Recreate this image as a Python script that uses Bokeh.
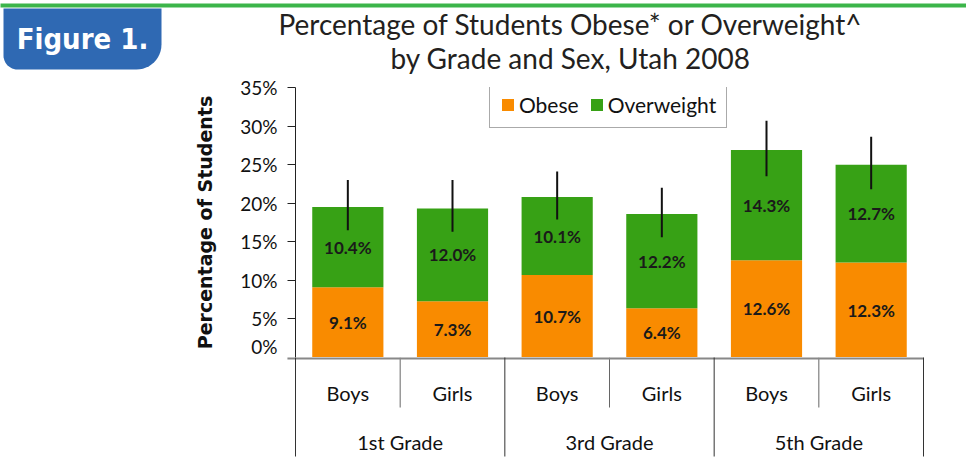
import math
from bokeh.plotting import figure
from bokeh.models import (ColumnDataSource, FactorRange, Range1d, FixedTicker,
                          PrintfTickFormatter, Legend, LegendItem)
from bokeh.layouts import column
from bokeh.transform import dodge
from bokeh.core.properties import value
from bokeh.embed import file_html
from bokeh.resources import INLINE

# ---------------- data ----------------
grades = ["1st Grade", "3rd Grade", "5th Grade"]
sexes = ["Boys", "Girls"]
obese = [9.1, 7.3, 10.7, 6.4, 12.6, 12.3]
overweight = [10.4, 12.0, 10.1, 12.2, 14.3, 12.7]
err_low = [16.5, 16.3, 17.9, 15.6, 23.5, 21.8]
err_high = [23.0, 23.0, 24.1, 22.0, 30.7, 28.6]
y_ticks = [0, 5, 10, 15, 20, 25, 30, 35]
series_names = ["Obese", "Overweight"]
title_lines = ["Percentage of Students Obese* or Overweight^", "by Grade and Sex, Utah 2008"]
y_label = "Percentage of Students"
fig_label = "Figure 1."

ORANGE = "#F98B00"
GREEN = "#37A115"
BLUE = "#2F69B3"
TOPLINE = "#3CB54A"
FONT = "Lato"

factors = [(g, s) for g in grades for s in sexes]
src = ColumnDataSource(dict(
    x=factors,
    obese=obese,
    overweight=overweight,
    lo=err_low,
    hi=err_high,
    obese_mid=[o / 2 for o in obese],
    over_mid=[o + w / 2 for o, w in zip(obese, overweight)],
    obese_txt=[f"{o:.1f}%" for o in obese],
    over_txt=[f"{w:.1f}%" for w in overweight],
))

W = 966
LEFT = 295
RIGHT = W - 923
HEAD_H = 75

# ---------------- header (top rule, tab, title) ----------------
# its frame is aligned with the plot frame; data units equal page pixels
hd = figure(width=W, height=HEAD_H, x_range=Range1d(LEFT, W - RIGHT),
            y_range=Range1d(HEAD_H, 0),
            x_axis_location=None, y_axis_location=None, toolbar_location=None,
            output_backend="svg", min_border_left=LEFT, min_border_right=RIGHT,
            min_border_top=0, min_border_bottom=0, outline_line_color=None)
hd.grid.grid_line_color = None
hd.quad(left=[0], right=[W], top=[3], bottom=[7], fill_color=TOPLINE,
        line_color=None, level="overlay")

# rounded "Figure 1." tab
tl, tr, tt, tb, rbl, rbr = 3, 161, 8, 69, 14, 25
tab_x, tab_y = [tl, tr], [tt, tt]
for k in range(13):
    t = (math.pi / 2) * k / 12
    tab_x.append(tr - rbr + rbr * math.cos(t))
    tab_y.append(tb - rbr + rbr * math.sin(t))
for k in range(13):
    t = math.pi / 2 + (math.pi / 2) * k / 12
    tab_x.append(tl + rbl + rbl * math.cos(t))
    tab_y.append(tb - rbl + rbl * math.sin(t))
hd.patch(tab_x, tab_y, fill_color=BLUE, line_color=None, level="overlay")
hd.text(x=[82], y=[38], text=[fig_label], text_color="white",
        text_font=value("DejaVu Sans Condensed"), text_font_style="bold",
        text_font_size="29px", text_align="center", text_baseline="middle",
        level="overlay")
hd.text(x=[570, 570], y=[23.5, 57], text=title_lines, text_color="#231F20",
        text_font=value(FONT), text_font_size="28px", text_align="center",
        text_baseline="middle", level="overlay")

# ---------------- main plot ----------------
xr = FactorRange(*factors, factor_padding=0, group_padding=0, range_padding=0)
p = figure(width=W, height=282, x_range=xr, y_range=Range1d(0, 35),
           x_axis_location=None, toolbar_location=None, output_backend="svg",
           min_border_left=LEFT, min_border_right=RIGHT, min_border_top=12,
           min_border_bottom=0, outline_line_color=None)
p.grid.grid_line_color = None

bars = p.vbar_stack(["obese", "overweight"], x="x", width=0.68, source=src,
                    fill_color=[ORANGE, GREEN], line_color=None)

p.segment(x0="x", y0="lo", x1="x", y1="hi", source=src, line_color="#111111",
          line_width=2)

for col_y, col_t in (("obese_mid", "obese_txt"), ("over_mid", "over_txt")):
    p.text(x="x", y=col_y, text=col_t, source=src, text_align="center",
           text_baseline="middle", text_font=value(FONT), text_font_style="bold",
           text_font_size="17px", text_color="#1A1A1A")

legend = Legend(items=[LegendItem(label=n, renderers=[r]) for n, r in zip(series_names, bars)],
                orientation="horizontal", location=(194, 229),
                glyph_width=15, glyph_height=15, label_standoff=4, spacing=10,
                padding=10, margin=0, label_height=20,
                label_text_font=FONT, label_text_font_size="21px",
                label_text_color="#111111",
                border_line_color="#555555", border_line_width=1,
                background_fill_color="white", background_fill_alpha=1)
p.add_layout(legend)

ax = p.yaxis[0]
ax.ticker = FixedTicker(ticks=y_ticks)
ax.formatter = PrintfTickFormatter(format="%d%%")
ax.axis_label = y_label
ax.axis_label_text_font = "DejaVu Sans"
ax.axis_label_text_font_style = "bold"
ax.axis_label_text_font_size = "19px"
ax.axis_label_text_color = "#111111"
ax.axis_label_standoff = 21
ax.major_label_text_font = FONT
ax.major_label_text_font_size = "19px"
ax.major_label_text_color = "#111111"
ax.major_label_standoff = 10
ax.major_tick_out = 8
ax.major_tick_in = 0
ax.minor_tick_out = 0
ax.minor_tick_in = 0
ax.axis_line_color = "#222222"
ax.major_tick_line_color = "#222222"

# ---------------- category band below the bars ----------------
BAND_H = 106
xf = figure(width=W, height=BAND_H, x_range=xr, y_range=Range1d(BAND_H, 0),
            x_axis_location=None, y_axis_location=None, toolbar_location=None,
            output_backend="svg", min_border_left=LEFT, min_border_right=RIGHT,
            min_border_top=0, min_border_bottom=0, outline_line_color=None)
xf.grid.grid_line_color = None

edge_src = ColumnDataSource(dict(x=[factors[0]], x_end=[factors[-1]]))
# x axis base line (continues left as the 0% tick)
xf.segment(x0=dodge("x", -0.577, range=xr), x1=dodge("x_end", 0.5, range=xr),
           y0=1, y1=1, source=edge_src, line_color="#888888", line_width=2,
           level="overlay")

group_src = ColumnDataSource(dict(first=[(g, sexes[0]) for g in grades],
                                  second=[(g, sexes[1]) for g in grades],
                                  grade=grades))
xf.segment(x0=dodge("first", -0.5, range=xr), x1=dodge("first", -0.5, range=xr),
           y0=0, y1=99, source=group_src, line_color="#333333", line_width=1,
           level="overlay")
xf.segment(x0=dodge("x_end", 0.5, range=xr), x1=dodge("x_end", 0.5, range=xr),
           y0=0, y1=99, source=edge_src, line_color="#333333", line_width=1,
           level="overlay")
xf.segment(x0=dodge("second", -0.5, range=xr), x1=dodge("second", -0.5, range=xr),
           y0=0, y1=50, source=group_src, line_color="#666666", line_width=1)

sub_src = ColumnDataSource(dict(x=factors, label=[s for _, s in factors]))
xf.text(x="x", y=35, text="label", source=sub_src, text_align="center",
        text_baseline="middle", text_font=value(FONT), text_font_size="20px",
        text_color="#111111")
xf.text(x="grade", y=84, text="grade", source=group_src, text_align="center",
        text_baseline="middle", text_font=value(FONT), text_font_size="20px",
        text_color="#111111")

layout = column(hd, p, xf, spacing=0)
open("out.html", "w").write(file_html(layout, INLINE))
